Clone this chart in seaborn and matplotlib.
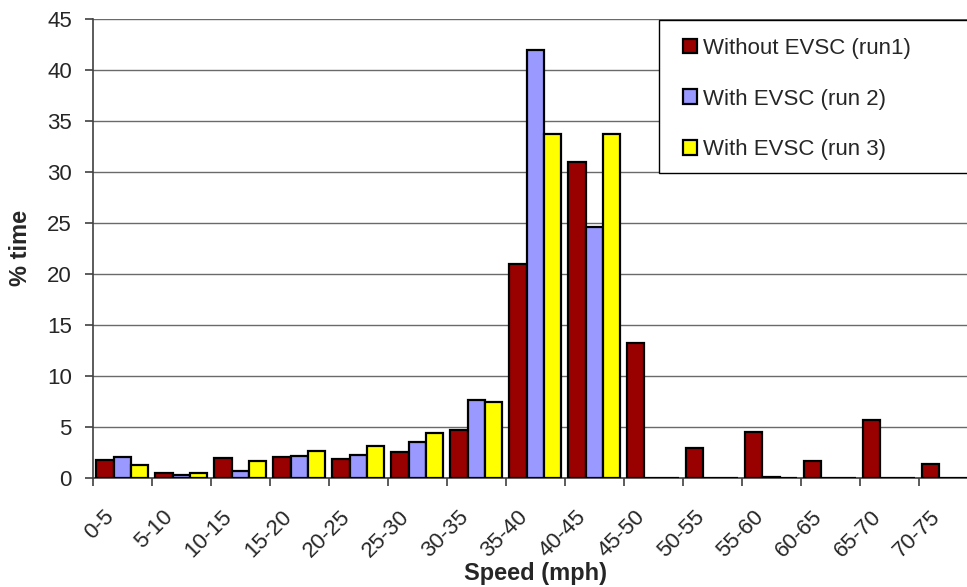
import matplotlib
matplotlib.use("Agg")
import matplotlib.pyplot as plt
import matplotlib.transforms as mtransforms
from matplotlib.patches import Rectangle
import seaborn as sns
import pandas as pd
import numpy as np
from matplotlib.ticker import FixedLocator, MultipleLocator

# Speed bins and share of time spent in each, per run
speed_bins = ["0-5", "5-10", "10-15", "15-20", "20-25", "25-30", "30-35", "35-40",
              "40-45", "45-50", "50-55", "55-60", "60-65", "65-70", "70-75"]
run1 = [1.7, 0.5, 1.95, 2.0, 1.8, 2.5, 4.7, 21.0, 31.0, 13.2, 2.9, 4.5, 1.65, 5.7, 1.35]
run2 = [2.0, 0.3, 0.7, 2.1, 2.2, 3.55, 7.6, 42.0, 24.6, 0.0, 0.0, 0.1, 0.0, 0.0, 0.0]
run3 = [1.2, 0.5, 1.6, 2.6, 3.1, 4.35, 7.4, 33.7, 33.7, 0.0, 0.0, 0.0, 0.0, 0.0, 0.0]
series_names = ["Without EVSC (run1)", "With EVSC (run 2)", "With EVSC (run 3)"]
series_colors = ["#990000", "#9999FF", "#FFFF00"]

df = pd.DataFrame({
    "speed": speed_bins * 3,
    "pct": run1 + run2 + run3,
    "run": np.repeat(series_names, len(speed_bins)),
})

sns.set_theme(style="white")
plt.rcParams["font.family"] = ["Liberation Sans", "DejaVu Sans"]
FS = 16
W, H = 967, 587

fig = plt.figure(figsize=(W / 100, H / 100), dpi=100)
ax = fig.add_axes([0.0959, 0.1862, 0.915, 0.7814])

sns.barplot(data=df, x="speed", y="pct", hue="run", order=speed_bins,
            hue_order=series_names, palette=series_colors, width=0.876,
            edgecolor="black", linewidth=1.6, saturation=1, ax=ax, zorder=3)

ax.set_ylim(0, 45)
ax.set_xlim(-0.5, len(speed_bins) - 0.5)
ax.yaxis.set_major_locator(MultipleLocator(5))
ax.grid(axis="y", color="#6a6a6a", linewidth=1.0, zorder=0)
ax.set_axisbelow(True)

for side in ["top", "right"]:
    ax.spines[side].set_visible(False)
for side in ["left", "bottom"]:
    ax.spines[side].set_color("#404040")
    ax.spines[side].set_linewidth(1.2)

# labels under category centres, tick marks on the bin boundaries
ax.xaxis.set_minor_locator(FixedLocator(np.arange(-0.5, len(speed_bins), 1.0)))
ax.tick_params(axis="x", which="major", length=0, pad=26, labelsize=FS)
ax.tick_params(axis="x", which="minor", length=6, width=1.2, color="#404040",
               direction="out", bottom=True)
ax.tick_params(axis="y", which="major", length=6, width=1.2, color="#404040",
               direction="out", left=True, labelsize=FS, pad=9)
shift = mtransforms.ScaledTranslation(-11 / 100, 0, fig.dpi_scale_trans)
for lab in ax.get_xticklabels():
    lab.set_rotation(45)
    lab.set_ha("right")
    lab.set_va("center")
    lab.set_rotation_mode("anchor")
    lab.set_transform(lab.get_transform() + shift)

ax.set_xlabel("Speed (mph)", fontsize=17, fontweight="bold", va="baseline")
ax.set_ylabel("% time", fontsize=17, fontweight="bold")
ax.xaxis.set_label_coords(0.5, -0.2230)
ax.yaxis.set_label_coords(-0.0686, 0.5)

# legend box: frame drawn separately so it can run off the right edge
fig.add_artist(Rectangle((659 / W, 1 - 173 / H), (985 - 659) / W, (173 - 20) / H,
                         transform=fig.transFigure, facecolor="white",
                         edgecolor="black", linewidth=1.0, zorder=4))
handles, labels = ax.get_legend_handles_labels()
leg = fig.legend(handles, labels, loc="upper left",
                 bbox_to_anchor=(683 / W, 1 - 38 / H), fontsize=FS,
                 frameon=False, handlelength=0.63, handleheight=0.63,
                 handletextpad=0.25, labelspacing=1.33, borderpad=0,
                 borderaxespad=0)
leg.set_zorder(5)
ax.get_legend().remove()

fig.savefig("out.png", dpi=100)
